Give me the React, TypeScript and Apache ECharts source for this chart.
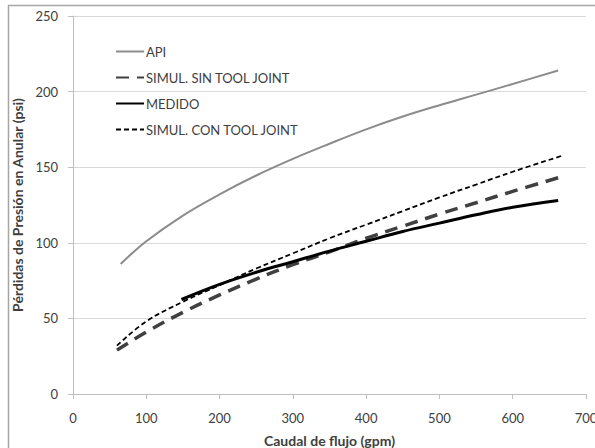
import React, { useEffect, useRef } from "react";
import * as echarts from "echarts";

const seriesNames = ["API", "SIMUL. SIN TOOL JOINT", "MEDIDO", "SIMUL. CON TOOL JOINT"];

const apiX = [65, 100, 150, 200, 250, 300, 350, 400, 450, 500, 550, 600, 662];
const apiY = [86, 101, 118, 132, 144.5, 155.5, 165.5, 175, 183.5, 191, 198, 205, 214];

const sinX = [60, 100, 150, 200, 250, 300, 350, 400, 450, 500, 550, 600, 662];
const sinY = [29, 41, 54, 65.5, 76, 85.5, 94, 103, 111, 119, 126.5, 134, 143];

const medX = [148, 200, 250, 300, 350, 400, 450, 500, 550, 600, 662];
const medY = [62.5, 72.5, 80.5, 87.5, 94.5, 101, 107.5, 113, 118.5, 123.5, 128];

const conX = [60, 100, 150, 200, 250, 300, 350, 400, 450, 500, 550, 600, 670];
const conY = [32, 48, 61, 72, 83, 93, 103, 112, 121, 130, 138.5, 147, 158];

const xTicks = { min: 0, max: 700, interval: 100 };
const yTicks = { min: 0, max: 250, interval: 50 };

const zip = (xs: number[], ys: number[]) => xs.map((x, i) => [x, ys[i]]);

export default function App() {
  const ref = useRef<HTMLDivElement>(null);
  useEffect(() => {
    if (!ref.current) return;
    const chart = echarts.init(ref.current, undefined, { renderer: "svg" });
    const font = "Lato";
    const textColor = "#404040";
    const mk = (i: number, xs: number[], ys: number[], lineStyle: any) => ({
      name: seriesNames[i],
      type: "line",
      smooth: 0.4,
      symbol: "none",
      showSymbol: false,
      data: zip(xs, ys),
      lineStyle,
      itemStyle: { color: lineStyle.color },
    });
    chart.setOption({
      animation: false,
      backgroundColor: "#ffffff",
      textStyle: { fontFamily: font },
      grid: { left: 73, right: 9, top: 16, bottom: 54, containLabel: false, outerBoundsMode: "none" },
      graphic: [
        {
          type: "rect",
          shape: { x: 8.5, y: 5.5, width: 700, height: 600 },
          style: { fill: "none", stroke: "#a6a6a6", lineWidth: 1.5 },
          silent: true,
        },
      ],
      legend: {
        orient: "vertical",
        left: 115,
        top: 45,
        itemWidth: 28,
        itemHeight: 12,
        itemGap: 13,
        padding: 0,
        itemStyle: { opacity: 0 },
        textStyle: { fontFamily: font, fontSize: 13, color: textColor, padding: [0, 0, 0, -3] },
        data: seriesNames,
      },
      xAxis: {
        type: "value",
        ...xTicks,
        name: "Caudal de flujo (gpm)",
        nameLocation: "middle",
        nameGap: 39,
        nameTextStyle: { fontFamily: font, fontSize: 14, fontWeight: "bold", color: textColor },
        axisLine: { show: true, lineStyle: { color: "#bfbfbf", width: 1 } },
        axisTick: { show: true, length: 5, lineStyle: { color: "#bfbfbf" } },
        axisLabel: { fontFamily: font, fontSize: 13, color: textColor, margin: 17 },
        splitLine: { show: false },
      },
      yAxis: {
        type: "value",
        ...yTicks,
        name: "Pérdidas de Presión en Anular (psi)",
        nameLocation: "middle",
        nameGap: 42,
        nameTextStyle: { fontFamily: font, fontSize: 14, fontWeight: "bold", color: textColor },
        axisLine: { show: true, lineStyle: { color: "#bfbfbf", width: 1 } },
        axisTick: { show: true, length: 5, lineStyle: { color: "#bfbfbf" } },
        axisLabel: { fontFamily: font, fontSize: 13, color: textColor, margin: 15 },
        splitLine: { show: true, lineStyle: { color: "#d9d9d9", width: 1 } },
      },
      series: [
        mk(0, apiX, apiY, { color: "#8c8c8c", width: 2 }),
        mk(1, sinX, sinY, { color: "#404040", width: 3.5, type: [13, 8] }),
        mk(2, medX, medY, { color: "#000000", width: 3 }),
        mk(3, conX, conY, { color: "#000000", width: 1.8, type: [5, 3] }),
      ],
    });
    return () => chart.dispose();
  }, []);
  return (
    <div
      ref={ref}
      style={{ position: "absolute", left: 0, top: 0, width: 595, height: 448 }}
    />
  );
}
